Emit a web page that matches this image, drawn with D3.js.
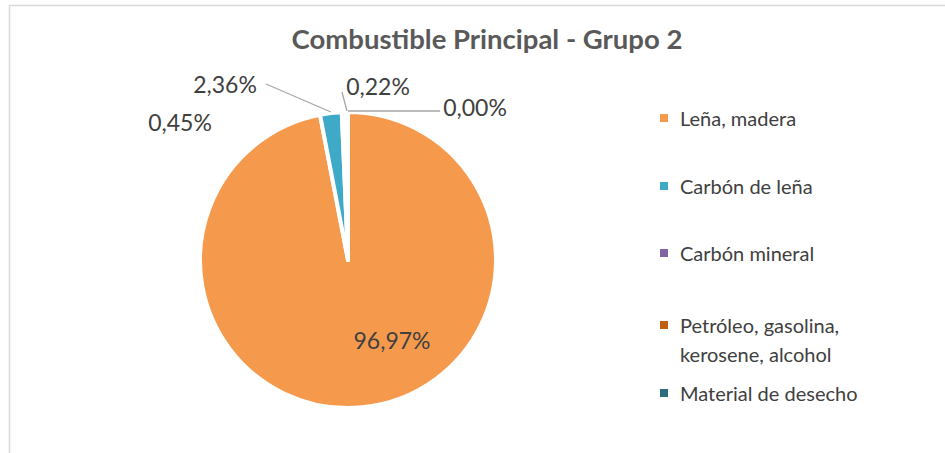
<!DOCTYPE html>
<html>
<head>
<meta charset="utf-8">
<script src="https://cdn.jsdelivr.net/npm/d3@7"></script>
<style>
  body { margin: 0; background: #fff; }
  text { font-family: Lato, "Open Sans", sans-serif; }
</style>
</head>
<body>
<div id="chart"></div>
<script>
// data
let categories = ["Leña, madera", "Carbón de leña", "Carbón mineral", "Petróleo, gasolina, kerosene, alcohol", "Material de desecho"];
let values = [96.97, 2.36, 0.45, 0.22, 0.00];
let colors = ["#F59A4D", "#3FA9C8", "#8064A2", "#C0600F", "#2C6E80"];

let width = 945, height = 453;
let cx = 348, cy = 260, radius = 148;

// where the labels sit (relative to pie centre) and whether they get a leader line
let labelLayout = [
    {dx: 44, dy: 80, line: false},
    {dx: -123, dy: -176, line: true, lx: -82, ly: -176},
    {dx: -168, dy: -138, line: false},
    {dx: 30, dy: -174, line: true, lx: -6, ly: -168},
    {dx: 127, dy: -153, line: true, lx: 92, ly: -149}
];

let svg = d3.select("#chart").append("svg")
    .attr("width", width)
    .attr("height", height);

// chart area border
svg.append("rect")
    .attr("x", 9.5).attr("y", 5.5)
    .attr("width", width).attr("height", height)
    .attr("fill", "none")
    .attr("stroke", "#d9d9d9")
    .attr("stroke-width", 1.5);

svg.append("text")
    .attr("x", 487).attr("y", 49)
    .attr("text-anchor", "middle")
    .attr("font-size", 27.5)
    .attr("font-weight", "bold")
    .attr("fill", "#595959")
    .text("Combustible Principal - Grupo 2");

let pie = d3.pie().sort(null).value(d => d);
let arcs = pie(values);
let arc = d3.arc().innerRadius(0).outerRadius(radius);
let outer = d3.arc().innerRadius(radius).outerRadius(radius);

let g = svg.append("g").attr("transform", `translate(${cx},${cy})`);

g.selectAll("path.slice")
    .data(arcs)
    .enter().append("path")
    .attr("class", "slice")
    .attr("d", arc)
    .attr("fill", (d, i) => colors[i])
    .attr("stroke", "#fff")
    .attr("stroke-width", 4)
    .attr("stroke-linejoin", "round");

let fmt = v => v.toFixed(2).replace(".", ",") + "%";

// leader lines
g.selectAll("line.leader")
    .data(arcs.filter((d, i) => labelLayout[i].line))
    .enter().append("line")
    .attr("class", "leader")
    .attr("x1", d => labelLayout[d.index].lx)
    .attr("y1", d => labelLayout[d.index].ly)
    .attr("x2", d => outer.centroid(d)[0])
    .attr("y2", d => outer.centroid(d)[1] - 1)
    .attr("stroke", "#a6a6a6")
    .attr("stroke-width", 1.3);

g.selectAll("text.lbl")
    .data(arcs)
    .enter().append("text")
    .attr("class", "lbl")
    .attr("x", d => labelLayout[d.index].dx)
    .attr("y", d => labelLayout[d.index].dy)
    .attr("text-anchor", "middle")
    .attr("dominant-baseline", "central")
    .attr("font-size", 23)
    .attr("fill", "#404040")
    .text(d => fmt(d.data));

// legend
let legendRows = [
    {lines: ["Leña, madera"], y: 118},
    {lines: ["Carbón de leña"], y: 186},
    {lines: ["Carbón mineral"], y: 253},
    {lines: ["Petróleo, gasolina,", "kerosene, alcohol"], y: 325},
    {lines: ["Material de desecho"], y: 393}
];

let legend = svg.append("g").attr("class", "legend");
categories.forEach((c, i) => {
    let row = legend.append("g").attr("transform", `translate(660,${legendRows[i].y})`);
    row.append("rect")
        .attr("x", 0).attr("y", -4)
        .attr("width", 8).attr("height", 8)
        .attr("fill", colors[i]);
    legendRows[i].lines.forEach((t, k) => {
        row.append("text")
            .attr("x", 20).attr("y", k * 29)
            .attr("dominant-baseline", "central")
            .attr("font-size", 20)
            .attr("fill", "#404040")
            .text(t);
    });
});
</script>
</body>
</html>
